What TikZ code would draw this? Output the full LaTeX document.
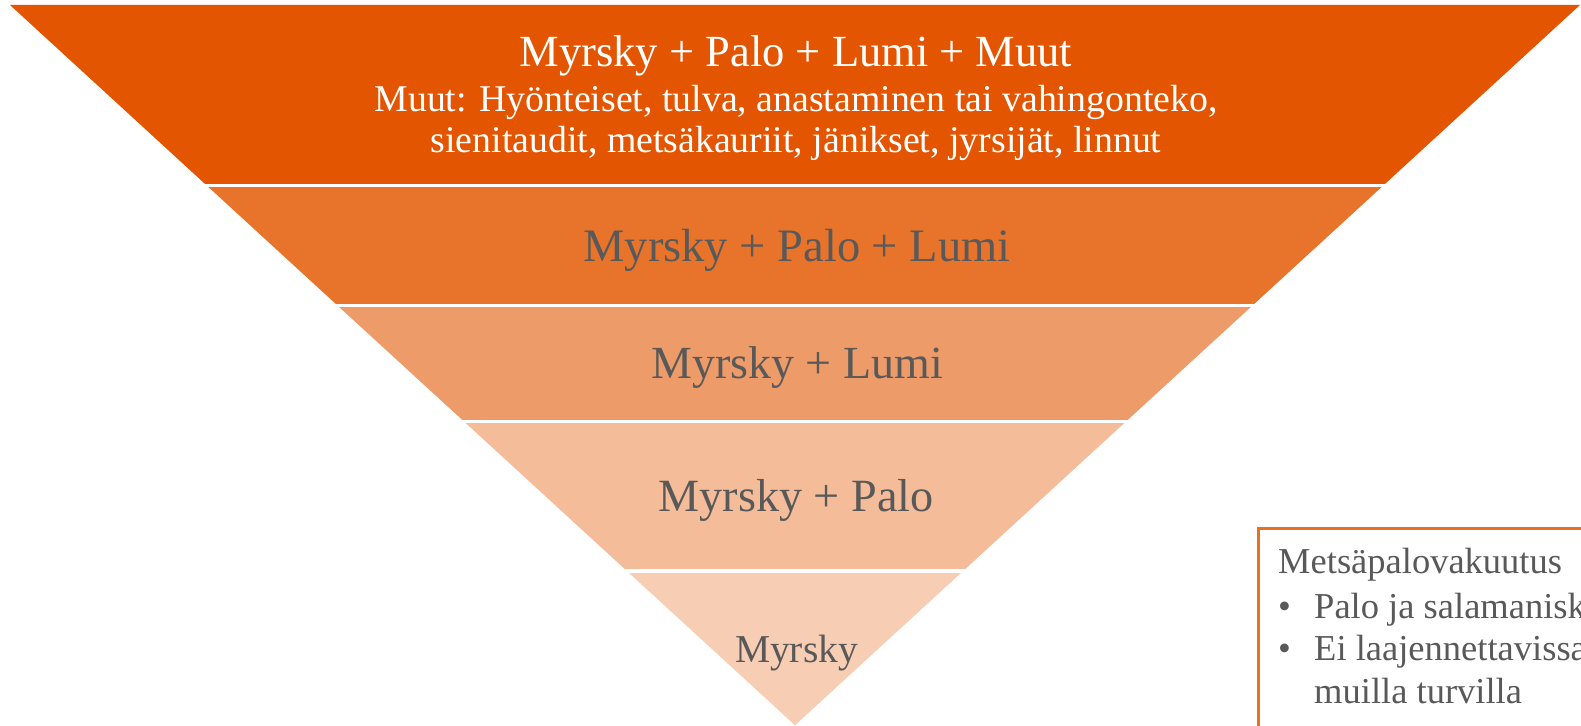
\documentclass[tikz,border=0pt]{standalone}
\usepackage{fontspec}
\setmainfont{Liberation Serif}
\definecolor{bandA}{HTML}{E35500}
\definecolor{bandB}{HTML}{E8742C}
\definecolor{bandC}{HTML}{ED9B68}
\definecolor{bandD}{HTML}{F5BC99}
\definecolor{bandE}{HTML}{F7CDB3}
\definecolor{txtgray}{HTML}{595959}
\definecolor{boxline}{HTML}{E8701F}
\tikzset{
  gap/.style={draw=white, line width=3.5bp},
  lbl/.style={anchor=base, inner sep=0pt, text=txtgray},
  toplbl/.style={anchor=base, inner sep=0pt, text=white},
  boxtxt/.style={anchor=base west, inner sep=0pt, text=txtgray, font=\fontsize{36.5bp}{40bp}\selectfont},
}
\begin{document}
\begin{tikzpicture}[x=1bp, y=-1bp]
\useasboundingbox (0,0) rectangle (1581,726);
\clip (0,0) rectangle (1581,726);
\fill[white] (0,0) rectangle (1581,726);
% bands
\fill[bandA] (10,5) -- (1580,5) -- (1383.5,185.3) -- (206.5,185.3) -- cycle;
\fill[bandB] (206.5,185.3) -- (1383.5,185.3) -- (1252.5,305.5) -- (337.5,305.5) -- cycle;
\fill[bandC] (337.5,305.5) -- (1252.5,305.5) -- (1126,421.5) -- (464,421.5) -- cycle;
\fill[bandD] (464,421.5) -- (1126,421.5) -- (963.3,570.8) -- (626.7,570.8) -- cycle;
\fill[bandE] (626.7,570.8) -- (963.3,570.8) -- (795,725.2) -- cycle;
% separators
\draw[gap] (190,185.3) -- (1400,185.3);
\draw[gap] (320,305.5) -- (1270,305.5);
\draw[gap] (450,421.5) -- (1140,421.5);
\draw[gap] (610,570.8) -- (980,570.8);
% labels
\node[toplbl, font=\fontsize{44.5bp}{48bp}\selectfont] (t1) at (796,66.7) {Myrsky + Palo + Lumi + Muut};
\node[toplbl, font=\fontsize{37.8bp}{40bp}\selectfont] (t2) at (796,111.7) {Muut: Hyönteiset, tulva, anastaminen tai vahingonteko,};
\node[toplbl, font=\fontsize{37.8bp}{40bp}\selectfont] (t3) at (796,152.3) {sienitaudit, metsäkauriit, jänikset, jyrsijät, linnut};
\node[lbl, font=\fontsize{46.5bp}{50bp}\selectfont] (l2) at (797,261.7) {Myrsky + Palo + Lumi};
\node[lbl, font=\fontsize{46bp}{50bp}\selectfont] (l3) at (797,378.3) {Myrsky + Lumi};
\node[lbl, font=\fontsize{46.2bp}{50bp}\selectfont] (l4) at (796,511.7) {Myrsky + Palo};
\node[lbl, font=\fontsize{39.5bp}{44bp}\selectfont] (l5) at (796.5,662.7) {Myrsky};
% side box
\draw[boxline, line width=2.5bp] (1258.3,760) -- (1258.3,528.3) -- (1620,528.3);
\node[boxtxt] (bt) at (1278,573.3) {Metsäpalovakuutus};
\node[boxtxt] (bb1) at (1278,618) {•};
\node[boxtxt] (b1) at (1314,618) {Palo ja salamanisku};
\node[boxtxt] (bb2) at (1278,660) {•};
\node[boxtxt] (b2) at (1314,660) {Ei laajennettavissa};
\node[boxtxt] (b3) at (1314,703) {muilla turvilla};
\end{tikzpicture}
\end{document}
